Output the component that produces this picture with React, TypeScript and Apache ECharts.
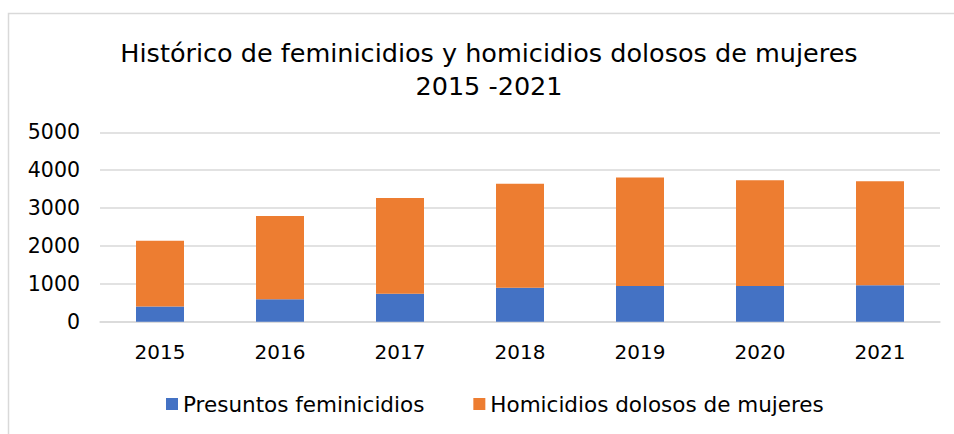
import React, { useEffect, useRef } from "react";
import * as echarts from "echarts";

const years = ["2015", "2016", "2017", "2018", "2019", "2020", "2021"];
const feminicidios = [400, 590, 735, 895, 945, 945, 965];
const homicidios = [1737, 2200, 2530, 2746, 2865, 2786, 2740];
const yTicks = { min: 0, max: 5000, interval: 1000 };
const seriesNames = ["Presuntos feminicidios", "Homicidios dolosos de mujeres"];
const titleText = "Histórico de feminicidios y homicidios dolosos de mujeres\n2015 -2021";

export default function App() {
  const ref = useRef<HTMLDivElement>(null);
  useEffect(() => {
    if (!ref.current) return;
    const chart = echarts.init(ref.current, undefined, { renderer: "svg" });
    const font = "DejaVu Sans";
    const ink = "#000000";
    chart.setOption({
      animation: false,
      backgroundColor: "#ffffff",
      textStyle: { fontFamily: font },
      title: {
        text: titleText,
        left: 489,
        top: 36,
        padding: 0,
        textAlign: "center",
        textStyle: {
          fontFamily: font,
          fontSize: 25.5,
          fontWeight: "normal",
          color: ink,
          lineHeight: 33,
        },
      },
      graphic: [
        {
          type: "rect",
          shape: { x: 8.5, y: 13.5, width: 980, height: 460 },
          style: { fill: "none", stroke: "#d9d9d9", lineWidth: 1.5 },
          silent: true,
          z: -1,
        },
      ],
      legend: {
        left: 166,
        top: 393,
        padding: 0,
        itemWidth: 12,
        itemHeight: 12,
        itemGap: 49,
        icon: "rect",
        textStyle: { fontFamily: font, fontSize: 21.5, color: ink, lineHeight: 20 },
        data: seriesNames,
      },
      grid: { left: 100, right: 14, top: 132.3, bottom: 112.3, containLabel: false },
      xAxis: {
        type: "category",
        data: years,
        axisLine: { lineStyle: { color: "#d9d9d9", width: 1.5 } },
        axisTick: { show: false },
        axisLabel: { fontFamily: font, fontSize: 20, color: ink, margin: 20 },
      },
      yAxis: {
        type: "value",
        min: yTicks.min,
        max: yTicks.max,
        interval: yTicks.interval,
        axisLine: { show: false },
        axisTick: { show: false },
        splitLine: { lineStyle: { color: "#d9d9d9", width: 1.5 } },
        axisLabel: {
          fontFamily: font,
          fontSize: 20.5,
          color: ink,
          margin: 20,
          formatter: (v: number) => String(v),
        },
      },
      series: [
        {
          name: seriesNames[0],
          type: "bar",
          stack: "total",
          data: feminicidios,
          barWidth: "40%",
          itemStyle: { color: "#4472C4" },
        },
        {
          name: seriesNames[1],
          type: "bar",
          stack: "total",
          data: homicidios,
          barWidth: "40%",
          itemStyle: { color: "#ED7D31" },
        },
      ],
    });
    return () => chart.dispose();
  }, []);
  return (
    <div
      ref={ref}
      style={{ position: "fixed", left: 0, top: 0, width: 954, height: 434 }}
    />
  );
}
